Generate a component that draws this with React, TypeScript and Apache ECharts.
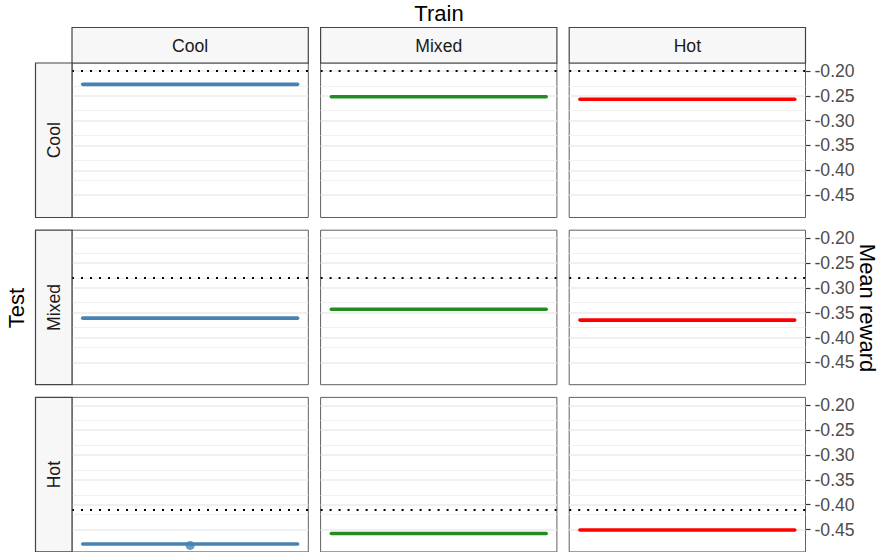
import React, { useEffect, useRef } from "react";
import * as echarts from "echarts";

const trainLevels = ["Cool", "Mixed", "Hot"];
const testLevels = ["Cool", "Mixed", "Hot"];
// meanReward[testRow][trainCol]
const meanReward = [
  [-0.227, -0.252, -0.257],
  [-0.361, -0.343, -0.365],
  [-0.479, -0.458, -0.451],
];
const baselineReward = [-0.199, -0.283, -0.413];
const highlightPoints = [{ test: 2, train: 0, x: 0.5, y: -0.482 }];
const xSpan = [0, 1];
const yMajor = [-0.45, -0.4, -0.35, -0.3, -0.25, -0.2];
const yMinor = [-0.425, -0.375, -0.325, -0.275, -0.225];
const trainColors = ["#4682B4", "#228B22", "#FF0000"];

const Y_MIN = -0.495;
const Y_MAX = -0.184;

const FONT = "'Liberation Sans', Arial, Helvetica, sans-serif";
const colLeft = [72, 320.6, 569.2];
const panelW = 236.3;
const rowTop = [63, 230.2, 397.4];
const panelH = 154.5;

export default function App() {
  const ref = useRef<HTMLDivElement>(null);
  useEffect(() => {
    if (!ref.current) return;
    const chart = echarts.init(ref.current, null, { renderer: "svg" });
    const grid: any[] = [];
    const xAxis: any[] = [];
    const yAxis: any[] = [];
    const series: any[] = [];
    const graphic: any[] = [];

    for (let r = 0; r < 3; r++) {
      for (let c = 0; c < 3; c++) {
        const i = r * 3 + c;
        grid.push({
          left: colLeft[c],
          top: rowTop[r],
          width: panelW,
          height: panelH,
          show: true,
          backgroundColor: "#FFFFFF",
          borderColor: "#606060",
          borderWidth: 1,
        });
        xAxis.push({
          type: "value",
          gridIndex: i,
          min: -0.05,
          max: 1.05,
          show: false,
          axisLine: { onZero: false },
        });
        const right = c === 2;
        yAxis.push({
          type: "value",
          gridIndex: i,
          min: Y_MIN,
          max: Y_MAX,
          position: "right",
          show: right,
          splitLine: { show: false },
          axisLine: { show: false, onZero: false },
          axisTick: {
            show: right,
            inside: false,
            length: 5,
            customValues: yMajor,
            lineStyle: { color: "#333333", width: 1.2 },
          },
          axisLabel: {
            show: right,
            customValues: yMajor,
            margin: 9,
            color: "#4D4D4D",
            fontSize: 17.6,
            fontFamily: FONT,
            formatter: (v: number) => v.toFixed(2),
          },
        });
        const ref0 = baselineReward[r];
        series.push({
          type: "line",
          xAxisIndex: i,
          yAxisIndex: i,
          z: 1,
          silent: true,
          symbol: "none",
          data: xSpan.map((x) => [x, ref0]),
          lineStyle: { opacity: 0 },
          markLine: {
            z: 1,
            silent: true,
            symbol: ["none", "none"],
            label: { show: false },
            animation: false,
            data: [
              ...yMinor.map((v) => ({
                yAxis: v,
                lineStyle: { color: "#F0F0F0", width: 1, type: "solid" },
              })),
              ...yMajor.map((v) => ({
                yAxis: v,
                lineStyle: { color: "#EBEBEB", width: 1.6, type: "solid" },
              })),
              {
                yAxis: ref0,
                lineStyle: { color: "#000000", width: 2, type: [2, 7], cap: "butt" },
              },
            ],
          },
        });
        const v = meanReward[r][c];
        series.push({
          type: "line",
          xAxisIndex: i,
          yAxisIndex: i,
          z: 3,
          silent: true,
          symbol: "none",
          data: xSpan.map((x) => [x, v]),
          lineStyle: { color: trainColors[c], width: 3.6, cap: "round" },
        });
        const pts = highlightPoints.filter((p) => p.test === r && p.train === c);
        if (pts.length) {
          series.push({
            type: "scatter",
            xAxisIndex: i,
            yAxisIndex: i,
            z: 4,
            silent: true,
            symbol: "circle",
            symbolSize: 9,
            itemStyle: { color: trainColors[c] },
            data: pts.map((p) => [p.x, p.y]),
          });
        }
      }
    }

    // top strips
    trainLevels.forEach((lab, c) => {
      graphic.push({
        type: "rect",
        shape: { x: colLeft[c], y: 27.5, width: panelW, height: 35.5 },
        style: { fill: "#F7F7F7", stroke: "#444444", lineWidth: 1.2 },
        z: 10,
      });
      graphic.push({
        type: "text",
        x: colLeft[c] + panelW / 2,
        y: 45.5,
        style: {
          text: lab,
          textAlign: "center",
          textVerticalAlign: "middle",
          fontSize: 17.6,
          fontFamily: FONT,
          fill: "#1A1A1A",
        },
        z: 11,
      });
    });
    // left strips
    testLevels.forEach((lab, r) => {
      graphic.push({
        type: "rect",
        shape: { x: 35.5, y: rowTop[r], width: 36.5, height: panelH },
        style: { fill: "#F7F7F7", stroke: "#444444", lineWidth: 1.2 },
        z: 10,
      });
      graphic.push({
        type: "text",
        x: 53.5,
        y: rowTop[r] + panelH / 2,
        rotation: Math.PI / 2,
        style: {
          text: lab,
          textAlign: "center",
          textVerticalAlign: "middle",
          fontSize: 17.6,
          fontFamily: FONT,
          fill: "#1A1A1A",
        },
        z: 11,
      });
    });
    graphic.push({
      type: "text",
      x: 439,
      y: 13.5,
      style: {
        text: "Train",
        textAlign: "center",
        textVerticalAlign: "middle",
        fontSize: 22,
        fontFamily: FONT,
        fill: "#000000",
      },
    });
    graphic.push({
      type: "text",
      x: 16,
      y: 308,
      rotation: Math.PI / 2,
      style: {
        text: "Test",
        textAlign: "center",
        textVerticalAlign: "middle",
        fontSize: 22,
        fontFamily: FONT,
        fill: "#000000",
      },
    });
    graphic.push({
      type: "text",
      x: 867,
      y: 308,
      rotation: -Math.PI / 2,
      style: {
        text: "Mean reward",
        textAlign: "center",
        textVerticalAlign: "middle",
        fontSize: 22,
        fontFamily: FONT,
        fill: "#000000",
      },
    });

    chart.setOption({
      animation: false,
      backgroundColor: "#FFFFFF",
      grid,
      xAxis,
      yAxis,
      series,
      graphic,
    });
    return () => chart.dispose();
  }, []);
  return (
    <div
      ref={ref}
      style={{ position: "fixed", left: 0, top: 0, width: 883, height: 552 }}
    />
  );
}
